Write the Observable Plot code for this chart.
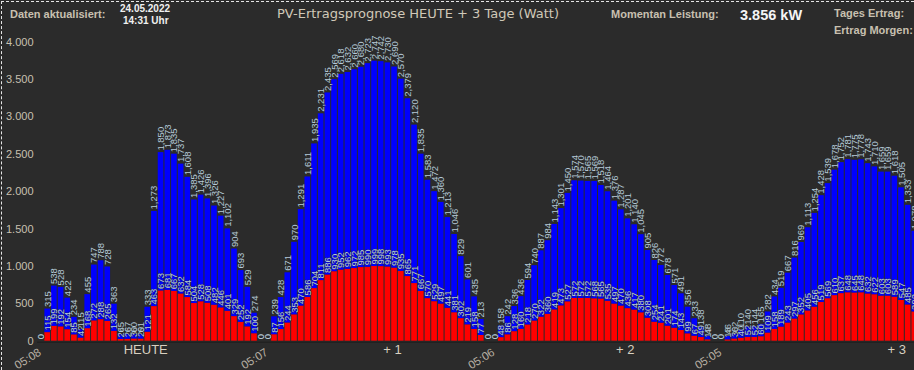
<!DOCTYPE html>
<html><head><meta charset="utf-8">
<script src="https://cdn.jsdelivr.net/npm/d3@7"></script>
<script src="https://cdn.jsdelivr.net/npm/@observablehq/plot@0.6"></script>
<style>
html,body{margin:0;padding:0;background:#2b2b2b;width:914px;height:370px;overflow:hidden;position:relative;}
#chart{position:absolute;left:0;top:0;width:914px;height:370px;overflow:hidden;}
#frame{position:absolute;left:1px;top:1px;width:913px;height:369px;border:1px dashed #e6e6e6;border-right-width:0;border-bottom-width:0;box-sizing:border-box;pointer-events:none;}
.h{position:absolute;font-family:"Liberation Sans",Arial,sans-serif;white-space:nowrap;line-height:1.2;}
</style></head><body>
<div id="chart"></div>
<div id="frame"></div>
<div class="h" style="left:10px;top:8px;font-size:11px;font-weight:bold;color:#c8c0b0">Daten aktualisiert:</div>
<div class="h" style="left:120px;top:3px;font-size:10px;font-weight:bold;color:#f0f0f0">24.05.2022</div>
<div class="h" style="left:123px;top:15px;font-size:10px;font-weight:bold;color:#f0f0f0">14:31 Uhr</div>
<div class="h" style="left:277px;top:6px;font-size:13px;color:#d0c8b8;font-family:'DejaVu Sans',Verdana,sans-serif">PV-Ertragsprognose HEUTE + 3 Tage (Watt)</div>
<div class="h" style="left:611px;top:8px;font-size:11px;font-weight:bold;color:#c8c0b0">Momentan Leistung:</div>
<div class="h" style="left:740px;top:7px;font-size:14.5px;font-weight:bold;color:#f4f4f4">3.856 kW</div>
<div class="h" style="left:834px;top:7px;font-size:11px;font-weight:bold;color:#c8c0b0">Tages Ertrag:</div>
<div class="h" style="left:834px;top:24px;font-size:11px;font-weight:bold;color:#c8c0b0">Ertrag Morgen:</div>
<script>
// Day 0 (HEUTE)
const red0  = [0,115,199,192,154,85,42,168,272,288,265,132,24,26,30,29,121,463,673,681,667,632,584,504,528,508,482,446,401,329,252,192,100,0];
const blue0 = [0,315,538,528,422,234,115,455,747,788,728,363,65,67,60,61,333,1273,1850,1873,1835,1737,1608,1385,1426,1396,1326,1227,1102,904,693,529,274,0];
// Day +1
const red1  = [0,87,156,244,353,470,586,704,811,886,930,952,962,972,985,990,999,998,993,978,935,865,771,667,570,529,497,441,381,302,219,158,77,0];
const blue1 = [0,239,428,671,970,1291,1611,1935,2231,2435,2569,2618,2632,2660,2680,2723,2747,2742,2730,2690,2570,2379,2120,1835,1583,1472,1360,1213,1046,829,601,435,213,0];
// Day +2
const red2  = [0,48,86,128,160,218,270,322,360,419,473,527,572,572,572,568,565,535,497,470,436,417,380,308,254,241,201,174,143,99,67,49,19,0];
const blue2 = [0,158,242,336,436,594,740,887,984,1143,1301,1450,1574,1570,1565,1569,1518,1464,1376,1287,1201,1140,1045,905,826,772,678,571,491,356,233,138,48,0];
// Day +3 (visible part)
const red3  = [0,18,30,40,52,52,60,109,158,189,243,297,352,405,456,519,569,610,637,648,645,648,632,622,603,603,589,547,485,392];
const blue3 = [0,46,62,110,140,144,165,282,434,519,667,816,969,1113,1254,1428,1539,1678,1752,1781,1775,1778,1743,1710,1659,1659,1618,1505,1333,1078];

const timeLabels = ["05:08","05:07","05:06","05:05"];
const timeIndex  = [0,34,68,102];
const dayLabels  = ["HEUTE","+ 1","+ 2","+ 3"];
const dayIndex   = [15.7,52.7,87.6,128.3];
const yTicks     = [0,500,1000,1500,2000,2500,3000,3500,4000];

const red  = [...red0, ...red1, ...red2, ...red3];
const blue = [...blue0, ...blue1, ...blue2, ...blue3];
const data = red.map((r, i) => ({i, red: r, blue: blue[i], total: r + blue[i]}));
const n = data.length;

const de = d3.formatLocale({decimal: ",", thousands: ".", grouping: [3], currency: ["", ""]});
const yFmt = de.format(",d");
const lblFmt = d3.format(",d");

const step = 6.67, x0 = 37.2, half = 0.425;
const labelStyle = {rotate: -90, textAnchor: "start", fill: "#b6cad8", fontSize: 9.5, dy: -2,
  stroke: "#2b2b2b", strokeWidth: 1, strokeOpacity: 0.5, fontFamily: "Liberation Sans"};

const chart = Plot.plot({
  width: 914, height: 370,
  marginLeft: 37, marginRight: 0, marginTop: 41.7, marginBottom: 29.3,
  style: {background: "transparent", fontFamily: "Liberation Sans, Arial, sans-serif"},
  x: {type: "linear", domain: [-0.5, n - 0.5], range: [x0, x0 + n * step], axis: null},
  y: {domain: [0, 4000], range: [340.7, 41.7], axis: null},
  marks: [
    Plot.rectY(data, {x1: d => d.i - half, x2: d => d.i + half, y1: 0, y2: "red", fill: "#ff0000"}),
    Plot.rectY(data, {x1: d => d.i - half, x2: d => d.i + half, y1: "red", y2: "total", fill: "#0000ff"}),
    Plot.ruleY([0], {stroke: "#1e1e1e", strokeWidth: 1, dy: 1}),
    Plot.text(data, {x: "i", y: "red", text: d => lblFmt(d.red), ...labelStyle}),
    Plot.text(data, {x: "i", y: "total", text: d => lblFmt(d.blue), ...labelStyle}),
    Plot.axisY(yTicks, {tickSize: 0, tickPadding: 4, tickFormat: yFmt, fill: "#c8c0b0", fontSize: 11, anchor: "left"}),
    Plot.text(timeLabels, {x: (d, k) => timeIndex[k], frameAnchor: "bottom", text: d => d, rotate: -32,
      textAnchor: "end", lineAnchor: "middle", dx: -1, dy: 10, fill: "#b8b0a4", fontSize: 11.5}),
    Plot.text(dayLabels, {x: (d, k) => dayIndex[k], frameAnchor: "bottom", text: d => d,
      textAnchor: "middle", dy: 13, fill: "#d8d0c0", fontSize: 13})
  ]
});
document.getElementById("chart").appendChild(chart);
</script>
</body></html>
